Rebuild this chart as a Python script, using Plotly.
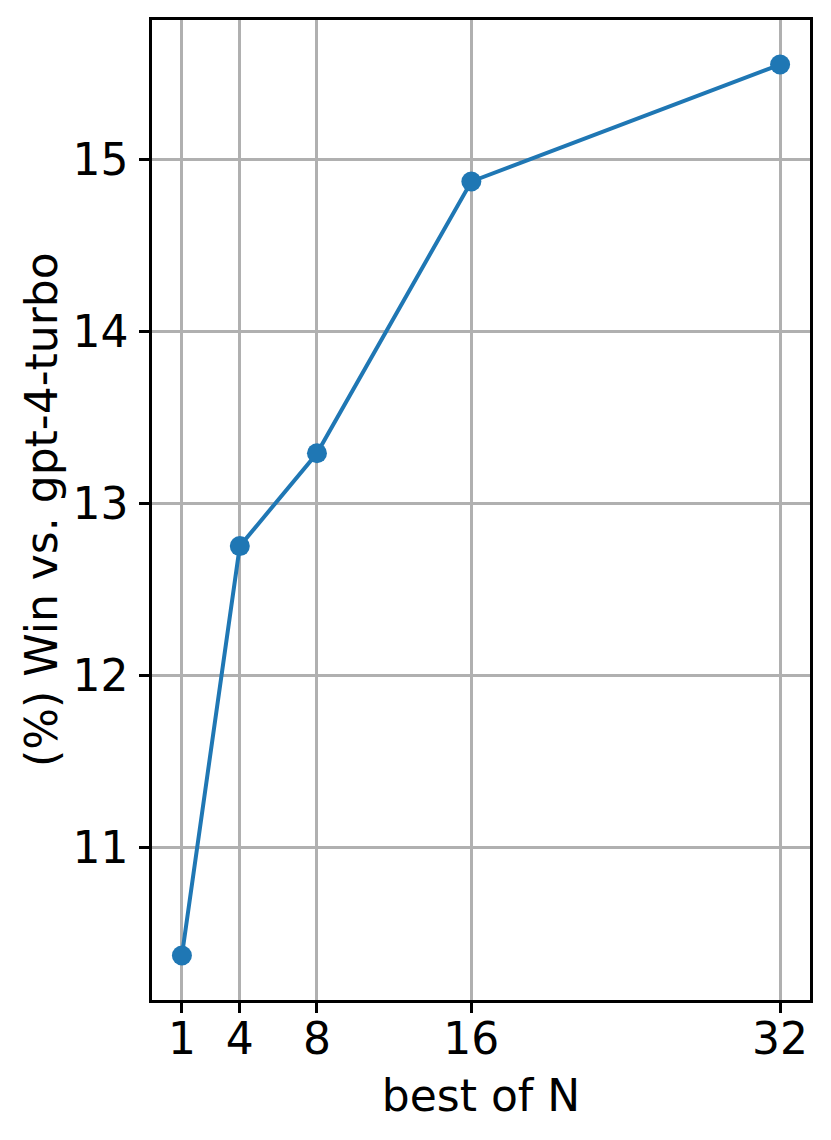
import plotly.graph_objects as go

best_of_n = [1, 4, 8, 16, 32]
win_rate = [10.37, 12.75, 13.29, 14.87, 15.55]
x_ticks = [1, 4, 8, 16, 32]
y_ticks = [11, 12, 13, 14, 15]
x_title = "best of N"
y_title = "(%) Win vs. gpt-4-turbo"

fig = go.Figure()
fig.add_trace(go.Scatter(
    x=best_of_n, y=win_rate, mode="lines+markers",
    line=dict(color="#1f77b4", width=4),
    marker=dict(color="#1f77b4", size=20),
    showlegend=False,
))

axis_common = dict(
    showline=True, linecolor="black", linewidth=2.5, mirror=True,
    showgrid=True, gridcolor="#b0b0b0", gridwidth=2.5,
    ticks="outside", ticklen=10, tickwidth=2.5, tickcolor="black",
    zeroline=False,
    tickfont=dict(family="DejaVu Sans", size=44, color="black"),
)

fig.update_layout(
    width=831, height=1140,
    margin=dict(l=152, r=21, t=20, b=140),
    paper_bgcolor="white", plot_bgcolor="white",
    font=dict(family="DejaVu Sans", size=44, color="black"),
    xaxis=dict(range=[-0.55, 33.55], tickvals=x_ticks, ticklabelstandoff=-12,
               title=dict(text=x_title, font=dict(size=44), standoff=18),
               **axis_common),
    yaxis=dict(range=[10.111, 15.809], tickvals=y_ticks, ticklabelstandoff=2,
               **axis_common),
)
fig.add_annotation(
    text=y_title, xref="paper", yref="paper",
    x=(41 - 152) / 658, y=0.5, xanchor="center", yanchor="middle",
    textangle=-90, showarrow=False,
    font=dict(family="DejaVu Sans", size=44, color="black"),
)

fig.write_html("out.html", config={"displayModeBar": False},
               post_script="document.body.style.margin='0';")
